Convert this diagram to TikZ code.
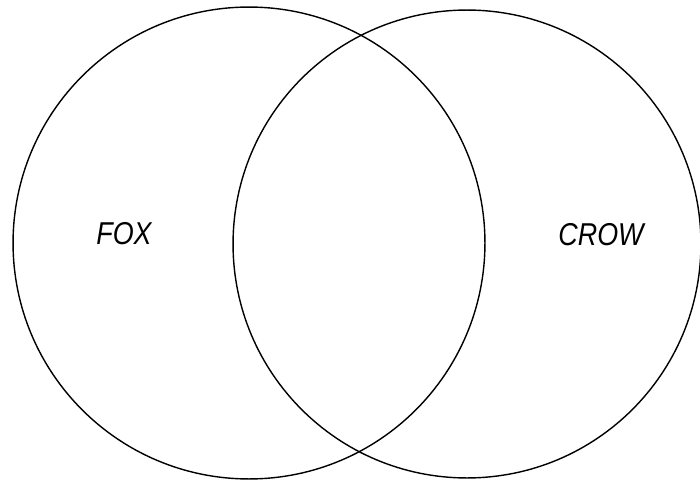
\documentclass[tikz,border=0pt]{standalone}
\usepackage{fontspec}
\usepackage{tikz}
\usetikzlibrary{positioning}
\newfontfamily\handfont[FakeStretch=0.85]{Liberation Sans Italic}

\begin{document}
\begin{tikzpicture}[x=0.02cm, y=0.02cm,
  setcircle/.style={circle, draw, line width=0.8pt, inner sep=0pt},
  setlabel/.style={font=\handfont\fontsize{18}{18}\selectfont}]
\useasboundingbox (0,0) rectangle (700,481);
\node[setcircle, minimum size=9.44cm] (foxset) at (249,238) {};
\node[setcircle, minimum size=9.36cm] (crowset) at (467,237) {};

\node[setlabel] (foxlabel) at (124,247) {FOX};
\node[setlabel] (crowlabel) at (601,246) {CROW};
\end{tikzpicture}
\end{document}
